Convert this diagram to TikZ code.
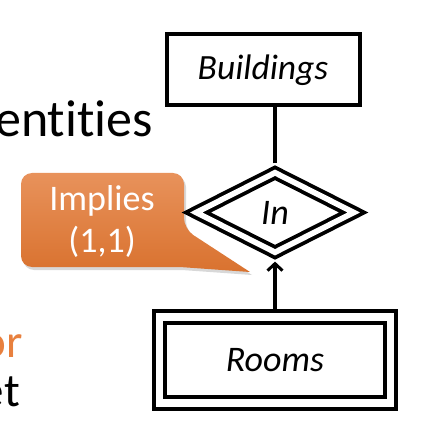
\documentclass[tikz,border=0pt]{standalone}
\usepackage{fontspec}
\setmainfont{Carlito}[Ligatures=NoCommon, RawFeature={-liga;-clig;-dlig}]
\usetikzlibrary{shapes.geometric,arrows.meta,shadows}
\definecolor{calltop}{HTML}{E8925B}
\definecolor{callbot}{HTML}{D9722F}
\definecolor{ortext}{HTML}{E8803E}
\begin{document}
\begin{tikzpicture}[x=1pt,y=-1pt,
  entbox/.style={draw, line width=4pt, minimum width=193pt, minimum height=71pt, inner sep=0pt, font=\fontsize{35.5}{42}\selectfont\itshape},
  weakent/.style={draw, line width=3.8pt, double, double distance=7.8pt, outer sep=7.7pt, minimum width=231pt, minimum height=86pt, inner sep=0pt, font=\fontsize{36}{42}\selectfont\itshape},
  weakrel/.style={diamond, draw, line width=3.8pt, double, double distance=5.6pt, outer sep=6.6pt, minimum width=163pt, minimum height=85pt, inner sep=0pt, font=\fontsize{36}{42}\selectfont\itshape},
  conn/.style={line width=3.6pt},
  slidetext/.style={anchor=base east, inner sep=0pt, font=\fontsize{52}{60}\selectfont},
  slidesmall/.style={anchor=base east, inner sep=0pt, font=\fontsize{47}{56}\selectfont},
  calltext/.style={text=white, align=center, inner sep=0pt, font=\fontsize{36}{42}\selectfont}
]
\useasboundingbox (0,0) rectangle (423,427);
\fill[white] (0,0) rectangle (423,427);

% slide text fragments
\node[slidetext] (t1) at (153,137) {ent\kern0pt it\kern0pt ies};
\node[slidesmall, text=ortext] (t2) at (23,357) {or};
\node[slidesmall] (t3) at (20,406) {et};

% callout
\path[drop shadow={shadow xshift=2pt, shadow yshift=-3pt, opacity=.3},
      top color=calltop, bottom color=callbot, rounded corners=11pt]
  (21,220) -- (21,173) -- (184,173) -- (184,229) [sharp corners] -- (250,272) -- (180,267) [rounded corners=11pt] -- (21,267) -- cycle;
\node[calltext] (callout) at (102,221) {Implies\\(1,1)};

% ER diagram
\node[entbox] (buildings) at (263,70) {Buildings};
\node[weakrel] (in) at (275,212.5) {In};
\node[weakent] (rooms) at (275,360) {Rooms};

\draw[conn] (in.north) -- (in.north |- buildings.south);
\draw[conn, -{Straight Barb[length=7pt, width=15pt, line width=3pt]}] (rooms.north) -- (in.south);
\end{tikzpicture}
\end{document}
